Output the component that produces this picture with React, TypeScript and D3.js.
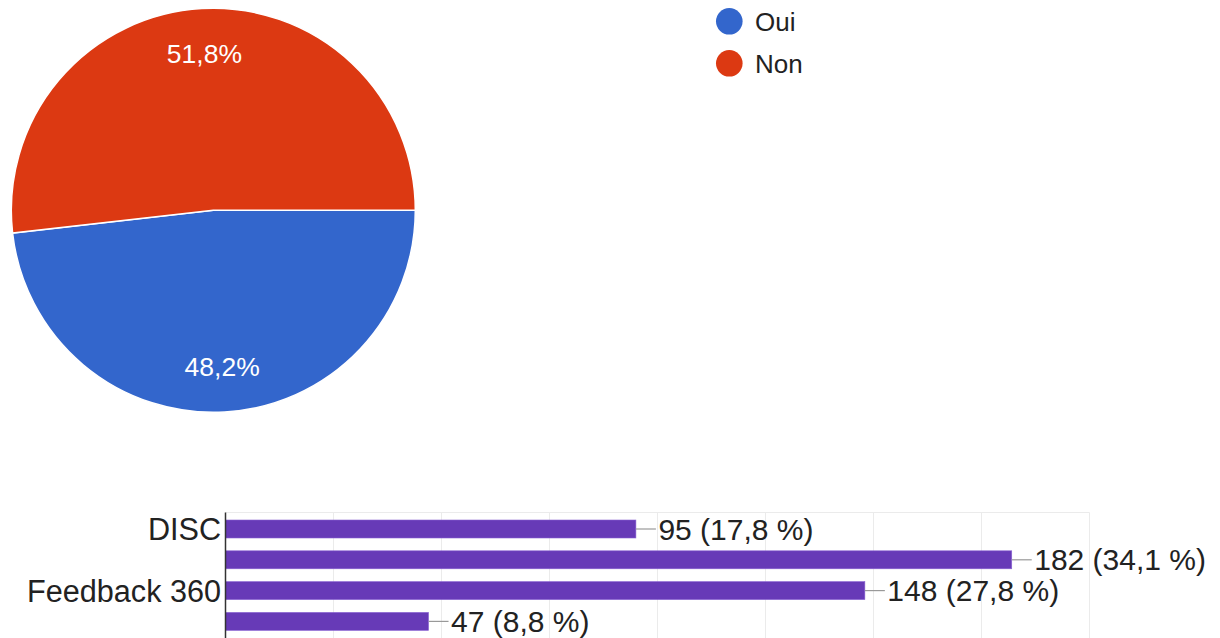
import React from "react";
import * as d3 from "d3";

// ---- Pie data ----
const pieLabels = ["Oui", "Non"];
const pieValues = [48.2, 51.8];
const pieColors = ["#3366cc", "#dc3912"];

// ---- Bar data ----
const barCategories = ["DISC", "", "Feedback 360", ""];
const barValues = [95, 182, 148, 47];
const barPercents = ["17,8", "34,1", "27,8", "8,8"];
const xTicks = [0, 25, 50, 75, 100, 125, 150, 175, 200];

const FONT = "Arial, 'Liberation Sans', Helvetica, sans-serif";

export default function App() {
  const W = 1220;
  const H = 638;

  // Pie geometry
  const cx = 213.3;
  const cy = 210.3;
  const R = 202;
  const labelR = 157;

  const pie = d3
    .pie<number>()
    .sort(null)
    .startAngle(Math.PI / 2)
    .endAngle(Math.PI / 2 + 2 * Math.PI)
    .value((d) => d);
  const arcs = pie(pieValues);
  const arcGen = d3.arc<d3.PieArcDatum<number>>().innerRadius(0).outerRadius(R);
  const labelArc = d3
    .arc<d3.PieArcDatum<number>>()
    .innerRadius(labelR)
    .outerRadius(labelR);

  // Bar geometry
  const x = d3.scaleLinear().domain([0, 200]).range([225.5, 1089.5]);
  const y = d3
    .scaleBand<number>()
    .domain(barValues.map((_, i) => i))
    .range([513.6, 636.8])
    .paddingInner(0.4156)
    .paddingOuter(0.2078);
  const plotTop = 512.5;

  const fmt = (v: number) => v.toFixed(1).replace(".", ",") + "%";

  return (
    <svg
      width={W}
      height={H}
      style={{ position: "absolute", left: 0, top: 0, background: "#fff" }}
      fontFamily={FONT}
    >
      {/* Pie */}
      <g transform={`translate(${cx},${cy})`}>
        {arcs.map((a, i) => (
          <path
            key={i}
            d={arcGen(a) || ""}
            fill={pieColors[i]}
            stroke="#fff"
            strokeWidth={1.5}
          />
        ))}
        {arcs.map((a, i) => {
          const [lx, ly] = labelArc.centroid(a);
          return (
            <text
              key={i}
              x={lx}
              y={ly}
              textAnchor="middle"
              dominantBaseline="central"
              fill="#fff"
              fontSize={26.5}
            >
              {fmt(pieValues[i])}
            </text>
          );
        })}
      </g>

      {/* Legend */}
      {pieLabels.map((l, i) => (
        <g key={l} transform={`translate(729.3, ${21.3 + i * 42})`}>
          <circle r={13.3} fill={pieColors[i]} />
          <text
            x={25.7}
            y={0.5}
            dominantBaseline="central"
            fontSize={26}
            fill="#222"
          >
            {l}
          </text>
        </g>
      ))}

      {/* Bar chart gridlines */}
      <g>
        {xTicks.slice(1).map((t) => (
          <line
            key={t}
            x1={x(t)}
            x2={x(t)}
            y1={plotTop}
            y2={H}
            stroke="#ebebeb"
            strokeWidth={1}
          />
        ))}
        <line
          x1={x(0)}
          x2={x(200)}
          y1={plotTop}
          y2={plotTop}
          stroke="#ebebeb"
          strokeWidth={1}
        />
      </g>

      {/* Bars */}
      {barValues.map((v, i) => {
        const y0 = y(i) as number;
        const bh = y.bandwidth();
        const xe = x(v);
        return (
          <g key={i}>
            <rect
              x={x(0)}
              y={y0}
              width={xe - x(0)}
              height={bh}
              fill="#673ab7"
              stroke="#8a63d2"
              strokeWidth={0.6}
            />
            <line
              x1={xe}
              x2={xe + 20}
              y1={y0 + bh / 2}
              y2={y0 + bh / 2}
              stroke="#999"
              strokeWidth={1.2}
            />
            <text
              x={xe + 22.5}
              y={y0 + bh / 2}
              dominantBaseline="central"
              fontSize={30}
              fill="#222"
            >
              {`${v} (${barPercents[i]} %)`}
            </text>
            {barCategories[i] !== "" && (
              <text
                x={221}
                y={y0 + bh / 2}
                textAnchor="end"
                dominantBaseline="central"
                fontSize={30.6}
                fill="#222"
              >
                {barCategories[i]}
              </text>
            )}
          </g>
        );
      })}

      {/* Axis line */}
      <line
        x1={x(0)}
        x2={x(0)}
        y1={plotTop}
        y2={H}
        stroke="#333"
        strokeWidth={1.5}
      />
    </svg>
  );
}
